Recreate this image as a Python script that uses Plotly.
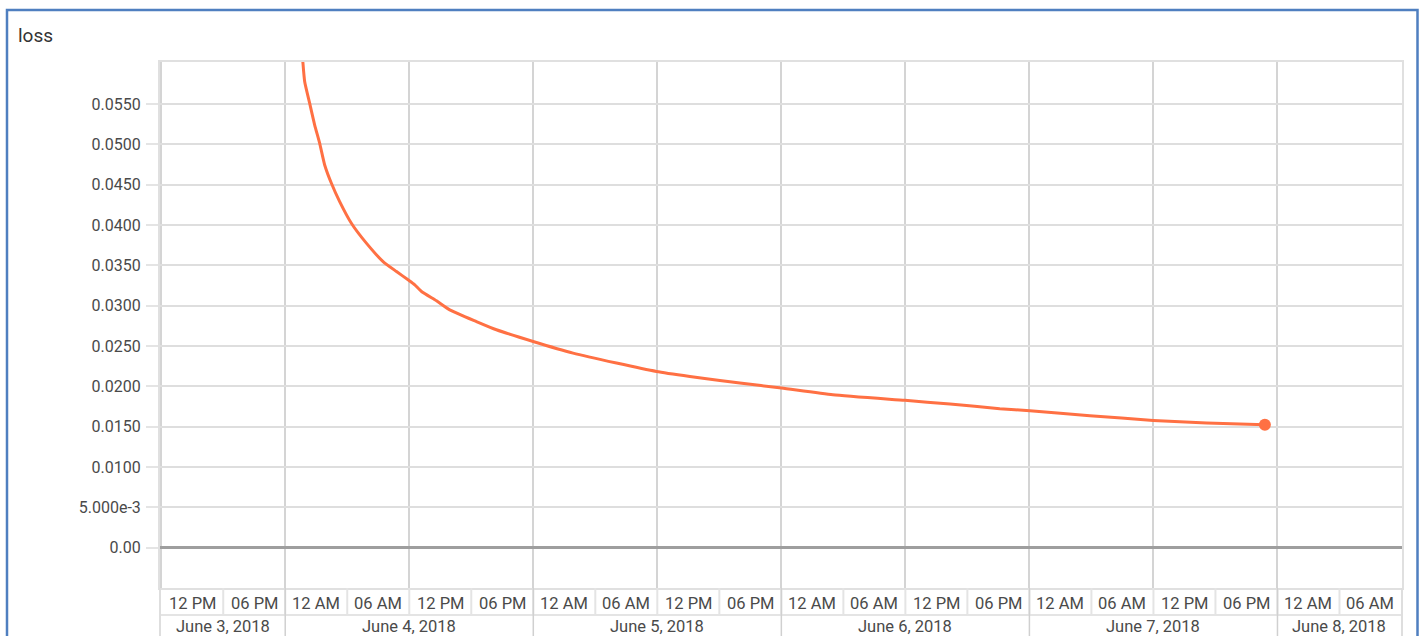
import plotly.graph_objects as go
import pandas as pd

# ---- data ----
times = [
    "2018-06-04 01:38", "2018-06-04 01:43", "2018-06-04 01:53", "2018-06-04 02:22",
    "2018-06-04 02:51", "2018-06-04 03:20", "2018-06-04 03:49", "2018-06-04 04:28",
    "2018-06-04 05:16", "2018-06-04 06:24", "2018-06-04 07:51", "2018-06-04 09:28",
    "2018-06-04 10:46", "2018-06-04 11:53", "2018-06-04 12:32", "2018-06-04 13:11",
    "2018-06-04 14:38", "2018-06-04 15:55", "2018-06-04 18:30", "2018-06-04 20:26",
    "2018-06-04 23:59", "2018-06-05 03:51", "2018-06-05 08:03", "2018-06-05 11:55",
    "2018-06-05 15:09", "2018-06-05 18:03", "2018-06-05 19:59", "2018-06-06 00:01",
    "2018-06-06 04:59", "2018-06-06 11:57", "2018-06-06 16:19", "2018-06-06 21:08",
    "2018-06-07 00:03", "2018-06-07 05:51", "2018-06-07 11:59", "2018-06-07 17:09",
    "2018-06-07 22:47",
]
loss = [
    0.06167, 0.06002, 0.05775, 0.05507,
    0.05239, 0.05012, 0.04744, 0.04517,
    0.04290, 0.04022, 0.03775, 0.03547,
    0.03423, 0.03321, 0.03259, 0.03176,
    0.03061, 0.02949, 0.02804, 0.02702,
    0.02557, 0.02413, 0.02290, 0.02186,
    0.02124, 0.02074, 0.02042, 0.01980,
    0.01897, 0.01827, 0.01782, 0.01724,
    0.01699, 0.01637, 0.01579, 0.01547,
    0.01526,
]

y_tickvals = [0.0, 0.005, 0.010, 0.015, 0.020, 0.025, 0.030, 0.035, 0.040, 0.045, 0.050, 0.055]
y_ticktext = ["0.00", "5.000e-3", "0.0100", "0.0150", "0.0200", "0.0250", "0.0300",
              "0.0350", "0.0400", "0.0450", "0.0500", "0.0550"]

# six-hour label cells (start times) and labels
cell_starts = pd.date_range("2018-06-03 12:00", "2018-06-08 06:00", freq="6h")
cell_labels = ["12 PM", "06 PM"] + ["12 AM", "06 AM", "12 PM", "06 PM"] * 4 + ["12 AM", "06 AM"]

# day label cells: (start, end, label)
day_starts = ["2018-06-03 12:00", "2018-06-04 00:00", "2018-06-05 00:00", "2018-06-06 00:00",
              "2018-06-07 00:00", "2018-06-08 00:00"]
day_ends = ["2018-06-04 00:00", "2018-06-05 00:00", "2018-06-06 00:00", "2018-06-07 00:00",
            "2018-06-08 00:00", "2018-06-08 12:00"]
day_labels = ["June 3, 2018", "June 4, 2018", "June 5, 2018", "June 6, 2018",
              "June 7, 2018", "June 8, 2018"]

x_range = ["2018-06-03 11:53", "2018-06-08 12:03"]
y_range = [-0.00498, 0.0602]

# ---- figure ----
W, H = 1421, 636
ML, MR, MT, MB = 160, 19, 62, 48
PW, PH = W - ML - MR, H - MT - MB

def px_x(px):
    return (px - ML) / PW

def px_y(py):
    return (H - MB - py) / PH

LINE = "#ff7043"
FAM = "Roboto, Arial, sans-serif"
Y_FONT = dict(family=FAM, size=16, color="#4a4a4a")
X_FONT = dict(family=FAM, size=16.5, color="#4a4a4a")

fig = go.Figure()
fig.add_trace(go.Scatter(x=pd.to_datetime(times), y=loss, mode="lines",
                         line=dict(color=LINE, width=3, shape="spline", smoothing=0.5),
                         hoverinfo="x+y"))
fig.add_trace(go.Scatter(x=[pd.to_datetime(times[-1])], y=[loss[-1]], mode="markers",
                         marker=dict(color=LINE, size=12), hoverinfo="x+y"))

shapes = []
annotations = []

# row boundaries (paper coords)
row1_bottom = px_y(615)
row2_bottom = px_y(650)
row1_mid = px_y(603)
row2_mid = px_y(626.5)

# horizontal line under row 1
shapes.append(dict(type="line", xref="paper", yref="paper", x0=0, x1=1,
                   y0=row1_bottom, y1=row1_bottom,
                   line=dict(color="#e4e4e4", width=2), layer="above"))
# left / right borders extended through label rows
for xp in (0, 1):
    shapes.append(dict(type="line", xref="paper", yref="paper", x0=xp, x1=xp,
                       y0=0, y1=row2_bottom, line=dict(color="#dedede", width=2)))

# six-hour separators in row 1
for t in cell_starts[1:]:
    shapes.append(dict(type="line", xref="x", yref="paper", x0=t, x1=t,
                       y0=0, y1=row1_bottom, line=dict(color="#e4e4e4", width=2)))
# day separators through both rows
for t in day_starts[1:]:
    shapes.append(dict(type="line", xref="x", yref="paper", x0=t, x1=t,
                       y0=0, y1=row2_bottom, line=dict(color="#d0d0d0", width=1.5)))

for t, lab in zip(cell_starts, cell_labels):
    annotations.append(dict(x=t + pd.Timedelta(hours=3), y=row1_mid, xref="x", yref="paper",
                            text=lab, showarrow=False, xanchor="center", yanchor="middle",
                            font=X_FONT))
for s, e, lab in zip(day_starts, day_ends, day_labels):
    mid = pd.Timestamp(s) + (pd.Timestamp(e) - pd.Timestamp(s)) / 2
    annotations.append(dict(x=mid, y=row2_mid, xref="x", yref="paper",
                            text=lab, showarrow=False, xanchor="center", yanchor="middle",
                            font=X_FONT))

# title
annotations.append(dict(x=px_x(16), y=px_y(36), xref="paper", yref="paper", text="loss",
                        showarrow=False, xanchor="left", yanchor="middle",
                        font=dict(family=FAM, size=19, color="#333333")))

# outer frame
shapes.append(dict(type="rect", xref="paper", yref="paper",
                   x0=px_x(7), x1=px_x(1417.5), y0=px_y(660), y1=px_y(10),
                   line=dict(color="#4f7fc0", width=2.5), fillcolor="rgba(0,0,0,0)"))

fig.update_layout(
    width=W, height=H, autosize=False,
    margin=dict(l=ML, r=MR, t=MT, b=MB),
    paper_bgcolor="white", plot_bgcolor="white",
    showlegend=False,
    shapes=shapes, annotations=annotations,
    font=Y_FONT,
    xaxis=dict(type="date", range=x_range, showticklabels=False,
               tick0="2018-06-03 12:00", dtick=12 * 3600 * 1000,
               showgrid=True, gridcolor="#d4d4d4", gridwidth=1.5,
               showline=True, mirror=True, linecolor="#e0e0e0", linewidth=2,
               ticks="", zeroline=False, fixedrange=True),
    yaxis=dict(range=y_range, tickvals=y_tickvals, ticktext=y_ticktext,
               showgrid=True, gridcolor="#dedede", gridwidth=2,
               zeroline=True, zerolinecolor="#9e9e9e", zerolinewidth=2.5,
               showline=True, mirror=True, linecolor="#e0e0e0", linewidth=2,
               ticks="outside", ticklen=12, tickcolor="#e4e4e4", tickwidth=2,
               ticklabelstandoff=2, tickfont=Y_FONT, fixedrange=True),
)

fig.write_html("out.html", config={"displayModeBar": False},
               post_script="document.body.style.margin='0';document.body.style.overflow='hidden';")
